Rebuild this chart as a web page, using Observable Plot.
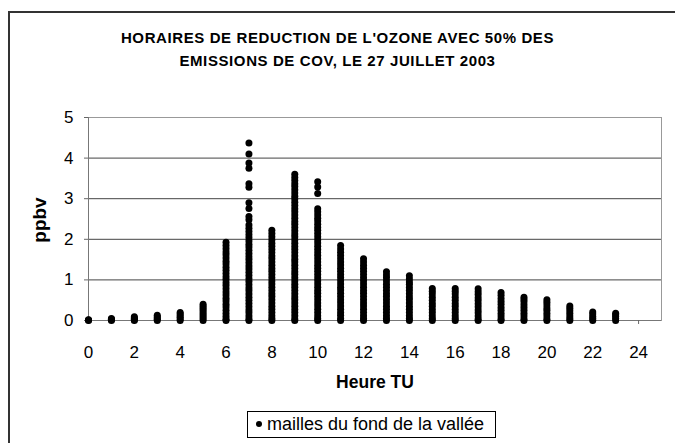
<!DOCTYPE html>
<html>
<head>
<meta charset="utf-8">
<script src="https://cdn.jsdelivr.net/npm/d3@7"></script>
<script src="https://cdn.jsdelivr.net/npm/@observablehq/plot@0.6"></script>
<style>
  html, body { margin: 0; padding: 0; background: #fff; }
  #chart { position: relative; width: 675px; height: 443px; overflow: hidden; font-family: "Liberation Sans", Arial, sans-serif; color: #000; }
  #chart svg { position: absolute; left: 0; top: 0; }
  .outer { position: absolute; left: 8px; top: 11px; width: 700px; height: 500px; border-left: 2px solid #333; border-top: 2px solid #333; }
  .title { position: absolute; left: 0; width: 675px; top: 26px; text-align: center; font-weight: bold; font-size: 15px; letter-spacing: 0.6px; line-height: 23px; }
  .ylab { position: absolute; left: 40px; top: 220px; transform: translate(-50%, -50%) rotate(-90deg); font-weight: bold; font-size: 19px; white-space: nowrap; }
  .xlab { position: absolute; left: 375px; top: 382px; transform: translate(-50%, -50%); font-weight: bold; font-size: 17.5px; white-space: nowrap; }
  .legend { position: absolute; left: 247px; top: 411px; width: 249px; height: 27px; border: 1px solid #000; box-sizing: border-box; font-size: 18px; line-height: 25px; white-space: nowrap; }
  .legend .sym { display: inline-block; width: 6px; height: 6px; border-radius: 50%; background: #000; margin: 0 5px 3px 8px; vertical-align: middle; }
</style>
</head>
<body>
<div id="chart">
  <div class="outer"></div>
  <div class="title">HORAIRES DE REDUCTION DE L'OZONE AVEC 50% DES<br>EMISSIONS DE COV, LE 27 JUILLET 2003</div>
  <div class="ylab">ppbv</div>
  <div class="xlab">Heure TU</div>
  <div class="legend"><span class="sym"></span>mailles du fond de la vallée</div>
</div>
<script>
// Hour of day (UT) for each group of valley-floor cells
const hours = [0, 1, 2, 3, 4, 5, 6, 7, 8, 9, 10, 11, 12, 13, 14, 15, 16, 17, 18, 19, 20, 21, 22, 23];

// Ozone reduction (ppbv) of the valley-floor cells, one list per hour
const ppbvByHour = [
  [0, 0.01, 0.02],
  [0, 0.02, 0.03, 0.05],
  [0, 0.02, 0.04, 0.06, 0.09],
  [0, 0.03, 0.06, 0.09, 0.13],
  [0, 0.04, 0.08, 0.12, 0.16, 0.2],
  [0, 0.05, 0.1, 0.15, 0.2, 0.25, 0.3, 0.35, 0.4],
  [0, 0.03, 0.1, 0.17, 0.25, 0.33, 0.4, 0.48, 0.55, 0.63, 0.7, 0.78, 0.86, 0.93, 1.01, 1.08, 1.16, 1.24, 1.31, 1.39, 1.46, 1.54, 1.62, 1.69, 1.77, 1.85, 1.93],
  [0, 0.04, 0.11, 0.19, 0.26, 0.34, 0.42, 0.5, 0.57, 0.65, 0.73, 0.8, 0.88, 0.96, 1.03, 1.11, 1.19, 1.27, 1.34, 1.42, 1.5, 1.57, 1.65, 1.73, 1.81, 1.88, 1.96, 2.04, 2.11, 2.19, 2.27, 2.35, 2.48, 2.56, 2.76, 2.9, 3.28, 3.37, 3.75, 3.88, 4.1, 4.37],
  [0, 0.05, 0.12, 0.2, 0.28, 0.35, 0.43, 0.51, 0.59, 0.66, 0.74, 0.82, 0.9, 0.97, 1.05, 1.13, 1.21, 1.28, 1.36, 1.44, 1.52, 1.59, 1.67, 1.75, 1.83, 1.9, 1.98, 2.06, 2.14, 2.22],
  [0, 0.04, 0.12, 0.2, 0.27, 0.35, 0.43, 0.51, 0.58, 0.66, 0.74, 0.82, 0.89, 0.97, 1.05, 1.13, 1.2, 1.28, 1.36, 1.44, 1.51, 1.59, 1.67, 1.75, 1.82, 1.9, 1.98, 2.06, 2.13, 2.21, 2.29, 2.37, 2.44, 2.52, 2.6, 2.68, 2.75, 2.83, 2.91, 2.99, 3.06, 3.14, 3.22, 3.3, 3.37, 3.45, 3.52, 3.6],
  [0, 0.05, 0.12, 0.2, 0.28, 0.36, 0.43, 0.51, 0.59, 0.67, 0.74, 0.82, 0.9, 0.98, 1.05, 1.13, 1.21, 1.29, 1.36, 1.44, 1.52, 1.6, 1.67, 1.75, 1.83, 1.91, 1.98, 2.06, 2.14, 2.22, 2.29, 2.37, 2.45, 2.52, 2.6, 2.68, 2.75, 3.13, 3.29, 3.42],
  [0, 0.05, 0.13, 0.2, 0.28, 0.36, 0.44, 0.51, 0.59, 0.67, 0.75, 0.82, 0.9, 0.98, 1.06, 1.13, 1.21, 1.29, 1.37, 1.44, 1.52, 1.6, 1.68, 1.76, 1.85],
  [0, 0.05, 0.12, 0.2, 0.28, 0.36, 0.43, 0.51, 0.59, 0.67, 0.74, 0.82, 0.9, 0.98, 1.05, 1.13, 1.21, 1.29, 1.36, 1.44, 1.52],
  [0, 0.05, 0.12, 0.2, 0.28, 0.35, 0.43, 0.51, 0.59, 0.66, 0.74, 0.82, 0.89, 0.97, 1.05, 1.12, 1.2],
  [0, 0.05, 0.12, 0.2, 0.28, 0.35, 0.43, 0.51, 0.58, 0.66, 0.74, 0.81, 0.89, 0.95, 1.02, 1.1],
  [0, 0.05, 0.12, 0.2, 0.27, 0.35, 0.42, 0.5, 0.57, 0.65, 0.72, 0.79],
  [0, 0.05, 0.12, 0.2, 0.27, 0.35, 0.42, 0.5, 0.57, 0.65, 0.72, 0.79],
  [0, 0.04, 0.11, 0.19, 0.26, 0.34, 0.41, 0.49, 0.56, 0.64, 0.71, 0.78],
  [0, 0.04, 0.11, 0.18, 0.25, 0.32, 0.4, 0.47, 0.54, 0.62, 0.69],
  [0, 0.04, 0.11, 0.18, 0.25, 0.32, 0.39, 0.46, 0.52, 0.57],
  [0, 0.04, 0.11, 0.18, 0.25, 0.31, 0.38, 0.45, 0.51],
  [0, 0.05, 0.11, 0.18, 0.24, 0.3, 0.36],
  [0, 0.05, 0.1, 0.16, 0.21],
  [0, 0.05, 0.1, 0.14, 0.18]
];

const xTicks = [0, 2, 4, 6, 8, 10, 12, 14, 16, 18, 20, 22, 24];
const yTicks = [0, 1, 2, 3, 4, 5];

// Flatten into one row per cell
const cells = hours.flatMap((h, i) => ppbvByHour[i].map(v => ({hour: h, ppbv: v})));

const plot = Plot.plot({
  width: 675,
  height: 443,
  marginLeft: 88,
  marginRight: 14,
  marginTop: 117,
  marginBottom: 123,
  style: {fontFamily: "'Liberation Sans', Arial, sans-serif", fontSize: "17px", color: "#000", background: "transparent", overflow: "visible"},
  x: {domain: [0, 25]},
  y: {domain: [0, 5]},
  marks: [
    Plot.gridY(yTicks.slice(1), {stroke: "#444", strokeOpacity: 1}),
    Plot.frame({stroke: "#999"}),
    Plot.ruleX([0], {stroke: "#777"}),
    Plot.ruleY([0], {stroke: "#777"}),
    Plot.axisX({ticks: xTicks, tickSize: 4, tickPadding: 21, tickFormat: d => String(d), label: null, stroke: "#666"}),
    Plot.axisY({ticks: yTicks, tickSize: 4, tickPadding: 11, tickFormat: d => String(d), label: null, stroke: "#666"}),
    Plot.dot(cells, {x: "hour", y: "ppbv", r: 3.5, fill: "#000", stroke: null})
  ]
});
document.getElementById("chart").appendChild(plot);
</script>
</body>
</html>
